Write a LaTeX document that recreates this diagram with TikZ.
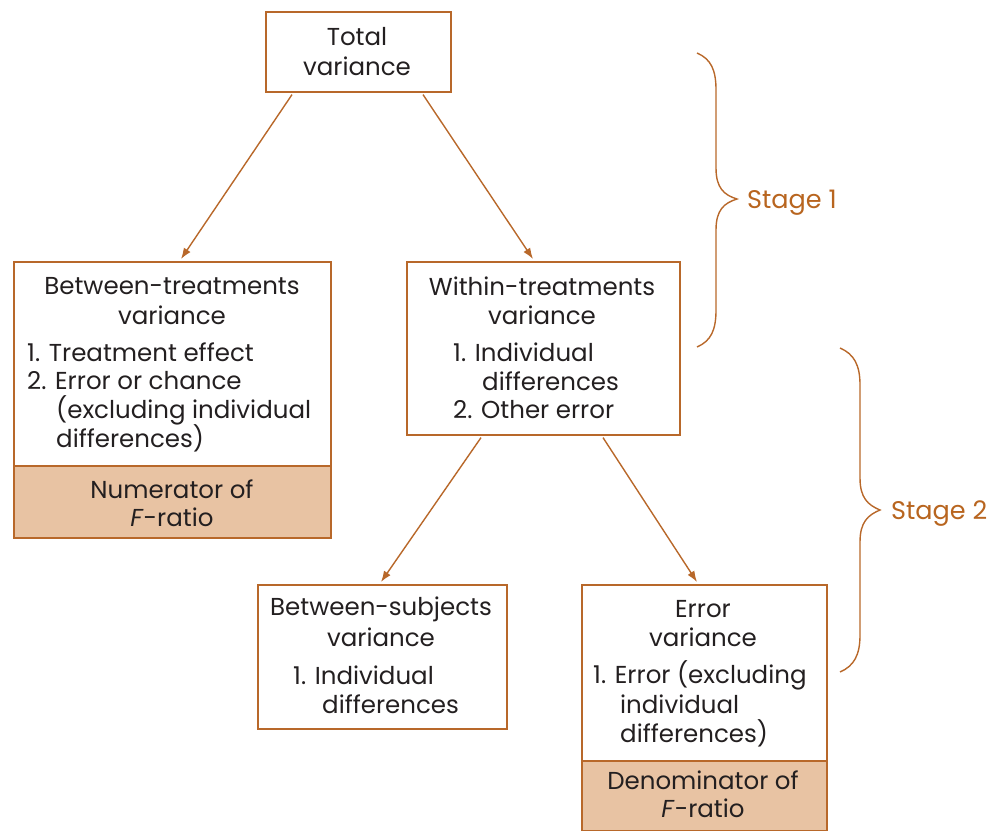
\documentclass[tikz,border=0pt]{standalone}
\usepackage{fontspec}
\setmainfont{Poppins}
\usetikzlibrary{arrows.meta,calc}
\definecolor{bord}{HTML}{B8682A}
\definecolor{fillc}{HTML}{E8C3A3}
\definecolor{stagec}{HTML}{B8651F}
\definecolor{txt}{HTML}{231F20}
\tikzset{
  box/.style={draw=bord,line width=1.6pt,inner sep=0pt,anchor=north west},
  fbox/.style={box,fill=fillc},
  tx/.style={font=\fontsize{24.5}{28}\selectfont,text=txt,inner sep=0pt},
  stg/.style={font=\fontsize{25.5}{28}\selectfont,text=stagec,inner sep=0pt,anchor=base west},
  arr/.style={draw=bord,line width=1.4pt,-{Latex[length=11pt,width=8pt]}},
  brace/.style={draw=bord,line width=1.4pt}
}
\begin{document}
\begin{tikzpicture}[x=1pt,y=-1pt]
\useasboundingbox (0,0) rectangle (1000,830);
% boxes
\node[box,minimum width=185pt,minimum height=80pt] (tot) at (265,11) {};
\node[fbox,minimum width=317pt,minimum height=72pt] (numb) at (13,465) {};
\node[box,minimum width=317pt,minimum height=204pt] (btw) at (13,261) {};
\node[box,minimum width=273pt,minimum height=173pt] (win) at (406,261) {};
\node[box,minimum width=249pt,minimum height=144pt] (bsub) at (257,584) {};
\node[fbox,minimum width=245pt,minimum height=70pt] (denb) at (581,760) {};
\node[box,minimum width=245pt,minimum height=176pt] (err) at (581,584) {};
% texts
\node[tx] (t1) at (357,37) {Total};
\node[tx] (t2) at (357,66) {variance};
\node[tx] (b1) at (172,286) {Between-treatments};
\node[tx] (b2) at (172,315) {variance};
\node[tx,anchor=west] (b3) at (27,352) {1. Treatment effect};
\node[tx,anchor=west] (b4) at (27,381) {2. Error or chance};
\node[tx,anchor=west] (b5) at (56,410) {(excluding individual};
\node[tx,anchor=west] (b6) at (56,438) {differences)};
\node[tx] (n1) at (172,489) {Numerator of};
\node[tx] (n2) at (172,517) {\textit{F}-ratio};
\node[tx] (w1) at (542,286) {Within-treatments};
\node[tx] (w2) at (542,315) {variance};
\node[tx,anchor=west] (w3) at (453,352) {1. Individual};
\node[tx,anchor=west] (w4) at (482,381) {differences};
\node[tx,anchor=west] (w5) at (453,410) {2. Other error};
\node[tx] (s1) at (381,609) {Between-subjects};
\node[tx] (s2) at (381,637) {variance};
\node[tx,anchor=west] (s3) at (293,675) {1. Individual};
\node[tx,anchor=west] (s4) at (322,704) {differences};
\node[tx] (e1) at (703,609) {Error};
\node[tx] (e2) at (703,637) {variance};
\node[tx,anchor=west] (e3) at (593,675) {1. Error (excluding};
\node[tx,anchor=west] (e4) at (620,704) {individual};
\node[tx,anchor=west] (e5) at (620,733) {differences)};
\node[tx] (d1) at (703,780) {Denominator of};
\node[tx] (d2) at (703,808) {\textit{F}-ratio};
% arrows
\draw[arr] ($(tot.south west)+(27,2)$) -- ($(btw.north west)+(168,-2)$);
\draw[arr] ($(tot.south west)+(158,2)$) -- ($(win.north west)+(127,-2)$);
\draw[arr] ($(win.south west)+(75,2)$) -- ($(bsub.north west)+(124,-2)$);
\draw[arr] ($(win.south west)+(197,2)$) -- ($(err.north west)+(116,-2)$);
% braces
\coordinate (br1) at (737,199);
\coordinate (br2) at (880,510);
\draw[brace] (697,53) .. controls (711,59) and (716,70) .. (716,90) -- (716,168)
  .. controls (716,188) and (724,195) .. (br1)
  .. controls (724,203) and (716,210) .. (716,230) -- (716,310)
  .. controls (716,330) and (711,341) .. (697,347);
\node[stg] (st1) at ($(br1)+(10,9)$) {Stage 1};
\draw[brace] (840,348) .. controls (854,354) and (860,365) .. (860,385) -- (860,478)
  .. controls (860,498) and (868,505) .. (br2)
  .. controls (868,515) and (860,522) .. (860,542) -- (860,635)
  .. controls (860,655) and (854,666) .. (840,672);
\node[stg] (st2) at ($(br2)+(11,9)$) {Stage 2};
\end{tikzpicture}
\end{document}
